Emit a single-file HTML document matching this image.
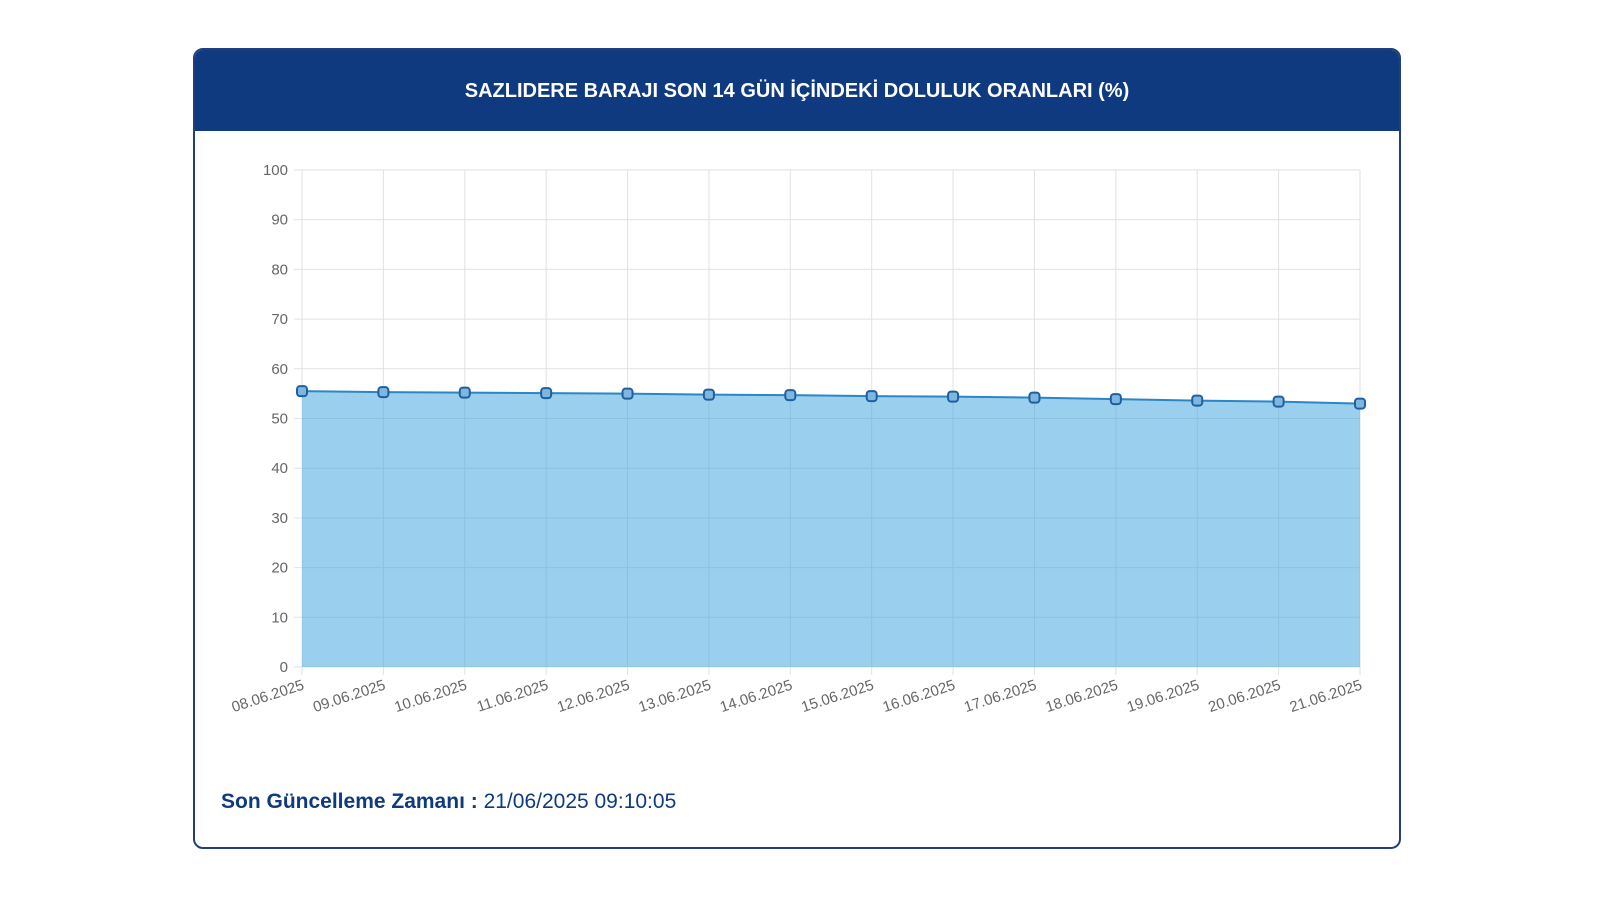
<!DOCTYPE html>
<html><head><meta charset="utf-8"><style>
body{margin:0;width:1600px;height:900px;background:#fff;font-family:"Liberation Sans",sans-serif;position:relative;overflow:hidden}
#card{position:absolute;left:193px;top:48px;width:1204px;height:797px;border:2px solid #213f7e;border-radius:10px;overflow:hidden;background:#fff}
#hdr{position:absolute;left:0;top:0;width:100%;height:81px;background:#0f3a80;color:#fff;font-weight:bold;font-size:20px;text-align:center;line-height:82px}
#foot{position:absolute;left:221px;top:790px;font-size:21px;color:#0f3a80}
svg{position:absolute;left:0;top:0}
</style></head><body>
<div id="card">
<div id="hdr">SAZLIDERE BARAJI SON 14 GÜN İÇİNDEKİ DOLULUK ORANLARI (%)</div>
</div>
<div id="foot"><b>Son Güncelleme Zamanı :</b> 21/06/2025 09:10:05</div>
<svg id="chart" width="1600" height="900"></svg>
<script>
const categories=["08.06.2025","09.06.2025","10.06.2025","11.06.2025","12.06.2025","13.06.2025","14.06.2025","15.06.2025","16.06.2025","17.06.2025","18.06.2025","19.06.2025","20.06.2025","21.06.2025"];
const values=[55.5,55.3,55.2,55.1,55.0,54.8,54.7,54.5,54.4,54.2,53.9,53.6,53.4,53.0];
const yTicks=[0,10,20,30,40,50,60,70,80,90,100];
const svg=document.getElementById('chart');const NS='http://www.w3.org/2000/svg';
const X0=302,X1=1360,Y0=667,Y1=170;
const xs=i=>X0+(X1-X0)*i/(categories.length-1);
const ys=v=>Y0-(Y0-Y1)*v/100;
function mk(t,a,p){const e=document.createElementNS(NS,t);for(const k in a)e.setAttribute(k,a[k]);(p||svg).appendChild(e);return e;}
yTicks.forEach(t=>{const y=ys(t);
const l=mk('line',{x1:X0-8,x2:X1,y1:y,y2:y,stroke:'#e2e2e2','stroke-width':1});


const tx=mk('text',{x:X0-14,y:y+5,'text-anchor':'end','font-size':15,fill:'#666'});tx.textContent=t;

});
categories.forEach((c,i)=>{const x=xs(i);
const l=mk('line',{x1:x,x2:x,y1:Y1,y2:Y0+8,stroke:'#e2e2e2','stroke-width':1});


const tx=mk('text',{x:x+3,y:Y0+22,'text-anchor':'end','font-size':15,fill:'#666',transform:`rotate(-18 ${x+3} ${Y0+22})`});tx.textContent=c;

});
let d=`M${xs(0)},${Y0}`;values.forEach((v,i)=>d+=` L${xs(i)},${ys(v)}`);d+=` L${xs(values.length-1)},${Y0} Z`;
const area=mk('path',{d:d,fill:'rgba(54,162,220,0.5)'});


const line=mk('polyline',{points:values.map((v,i)=>xs(i)+','+ys(v)).join(' '),fill:'none',stroke:'#2a86c6','stroke-width':2});


values.forEach((v,i)=>{const p=mk('rect',{x:xs(i)-5,y:ys(v)-5,width:10,height:10,rx:3,fill:'#7fb6e0',stroke:'#1f5f9e','stroke-width':2});

});
</script>
</body></html>
